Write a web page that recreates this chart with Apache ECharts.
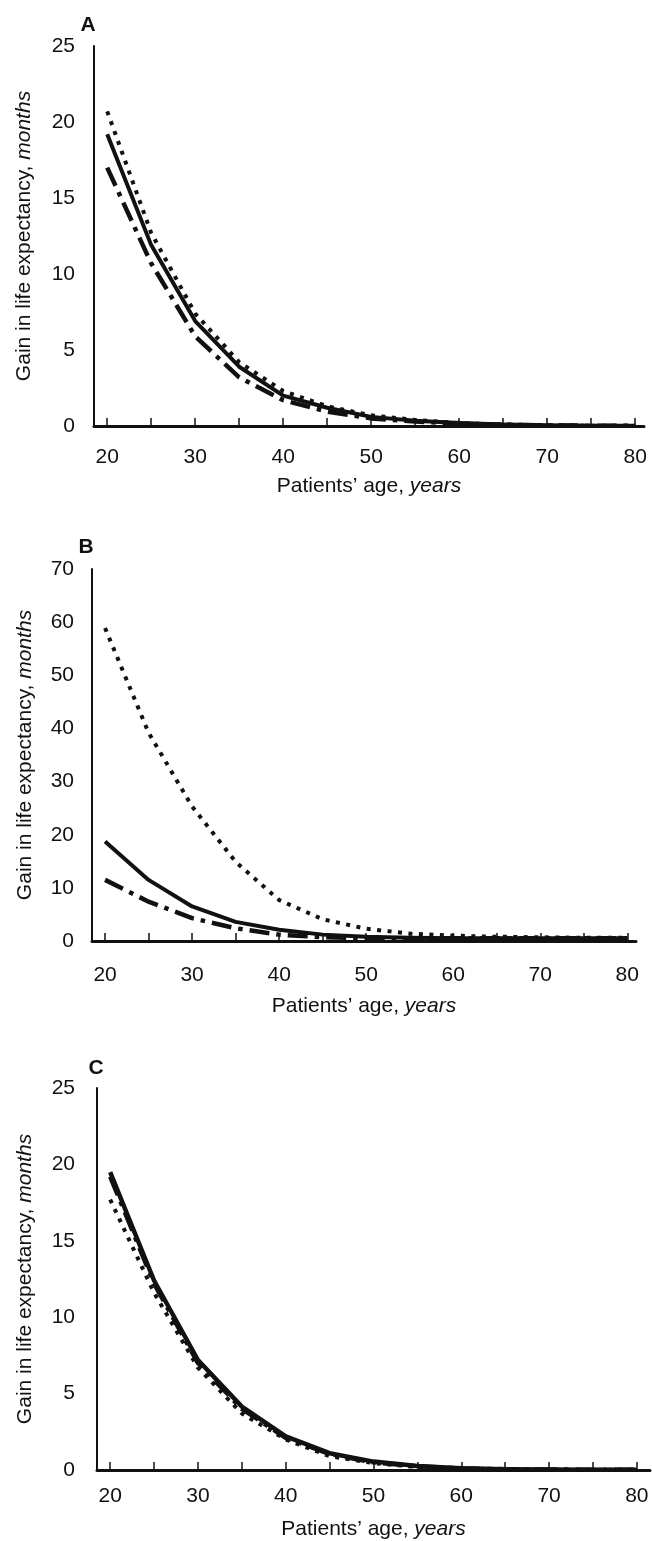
<!DOCTYPE html>
<html>
<head>
<meta charset="utf-8">
<script src="https://cdn.jsdelivr.net/npm/echarts@6/dist/echarts.min.js"></script>
<style>
  html, body { margin: 0; padding: 0; background: #fff; }
  #chart { width: 652px; height: 1541px; }
</style>
</head>
<body>
<div id="chart"></div>
<script>
// ---- data ----
const ages = [20, 25, 30, 35, 40, 45, 50, 55, 60, 65, 70, 75, 80];
const xTickValues = [20, 25, 30, 35, 40, 45, 50, 55, 60, 65, 70, 75, 80];
const xLabelValues = [20, 30, 40, 50, 60, 70, 80];
const panelLetters = ['A', 'B', 'C'];
const yMaxes = [25, 70, 25];
const yIntervals = [5, 10, 5];

// Panel A
const aSolid   = [19.2, 11.9, 6.9, 3.9, 2.0, 1.2, 0.6, 0.35, 0.2, 0.1, 0.05, 0.02, 0.01];
const aDotted  = [20.7, 12.7, 7.4, 4.2, 2.3, 1.3, 0.7, 0.4, 0.2, 0.1, 0.05, 0.02, 0.01];
const aDashDot = [17.0, 10.7, 5.9, 3.2, 1.7, 0.95, 0.5, 0.3, 0.15, 0.08, 0.04, 0.02, 0.01];
// Panel B
const bSolid   = [18.7, 11.5, 6.5, 3.6, 2.1, 1.2, 0.8, 0.6, 0.5, 0.5, 0.5, 0.5, 0.5];
const bDotted  = [58.9, 39.2, 25.3, 14.9, 7.7, 4.1, 2.3, 1.4, 1.0, 0.8, 0.7, 0.6, 0.6];
const bDashDot = [11.5, 7.4, 4.3, 2.4, 1.2, 0.7, 0.5, 0.5, 0.5, 0.5, 0.5, 0.5, 0.5];
// Panel C
const cSolid   = [19.5, 12.4, 7.2, 4.15, 2.2, 1.1, 0.55, 0.26, 0.12, 0.05, 0.03, 0.02, 0.01];
const cDashDot = [19.2, 12.2, 7.0, 4.0, 2.1, 1.05, 0.5, 0.24, 0.1, 0.05, 0.03, 0.02, 0.01];
const cDotted  = [17.7, 11.6, 6.7, 3.7, 2.0, 0.9, 0.45, 0.2, 0.1, 0.05, 0.02, 0.01, 0.01];

// ---- layout / style ----
const FONT = "'Liberation Sans', Arial, Helvetica, sans-serif";
const FS = 21;
const INK = '#111';
const layout = [
  { left: 94, top: 46, width: 550, height: 380, xMax: 81, xLabMargin: 21, xNameGap: 50, yNameGap: 59, yLabMargin: 19, letter: [88, 25] },
  { left: 92, top: 569, width: 544, height: 372, xMax: 81, xLabMargin: 24, xNameGap: 55, yNameGap: 56, yLabMargin: 18, letter: [86, 547] },
  { left: 97, top: 1088, width: 553, height: 382, xMax: 81.5, xLabMargin: 16, xNameGap: 49, yNameGap: 61, yLabMargin: 22, letter: [96, 1068] }
];
const panelData = [
  [aDotted, aSolid, aDashDot],
  [bDotted, bSolid, bDashDot],
  [cDotted, cDashDot, cSolid]
];
const DOTTED = { width: 4, type: [4, 6.5] };
const SOLID = { width: 4, type: 'solid' };
const DASHDOT = { width: 4.5, type: [20, 7, 4.5, 7] };
const panelStyles = [
  [DOTTED, SOLID, DASHDOT],
  [DOTTED, SOLID, DASHDOT],
  [DOTTED, DASHDOT, { width: 4.5, type: 'solid' }]
];

const richText = {
  n: { fontFamily: FONT, fontSize: FS, color: INK },
  i: { fontFamily: FONT, fontSize: FS, color: INK, fontStyle: 'italic' }
};

const grids = [], xAxes = [], yAxes = [], series = [], graphics = [];
layout.forEach((L, p) => {
  grids.push({ left: L.left, top: L.top, width: L.width, height: L.height, containLabel: false });
  xAxes.push({
    type: 'value', gridIndex: p, min: 18.5, max: L.xMax,
    name: '{n|Patients’ age, }{i|years}',
    nameLocation: 'middle', nameGap: L.xNameGap,
    nameTextStyle: { rich: richText },
    axisLine: { show: true, onZero: false, lineStyle: { color: INK, width: 3 } },
    axisTick: { show: true, inside: true, length: 8, customValues: xTickValues, lineStyle: { color: INK, width: 1.5 } },
    axisLabel: { show: true, customValues: xLabelValues, margin: L.xLabMargin, fontFamily: FONT, fontSize: FS, color: INK },
    splitLine: { show: false }
  });
  yAxes.push({
    type: 'value', gridIndex: p, min: 0, max: yMaxes[p], interval: yIntervals[p],
    name: '{n|Gain in life expectancy, }{i|months}',
    nameLocation: 'middle', nameGap: L.yNameGap, nameRotate: 90,
    nameTextStyle: { rich: richText },
    axisLine: { show: true, lineStyle: { color: INK, width: 2 } },
    axisTick: { show: false },
    axisLabel: { margin: L.yLabMargin, fontFamily: FONT, fontSize: FS, color: INK },
    splitLine: { show: false }
  });
  panelData[p].forEach((arr, k) => {
    const st = panelStyles[p][k];
    series.push({
      type: 'line', xAxisIndex: p, yAxisIndex: p,
      data: ages.map((a, i) => [a, arr[i]]),
      symbol: 'none', smooth: false, silent: true, animation: false,
      lineStyle: { color: INK, width: st.width, type: st.type, cap: 'butt', join: 'round' },
      z: 3 + k
    });
  });
  graphics.push({
    type: 'text', x: L.letter[0], y: L.letter[1],
    style: { text: panelLetters[p], fontFamily: FONT, fontSize: FS, fontWeight: 'bold', fill: INK, align: 'center', verticalAlign: 'middle' }
  });
});

const chart = echarts.init(document.getElementById('chart'), null, { renderer: 'canvas' });
chart.setOption({
  animation: false,
  backgroundColor: '#fff',
  grid: grids,
  xAxis: xAxes,
  yAxis: yAxes,
  series: series,
  graphic: graphics
});
</script>
</body>
</html>
